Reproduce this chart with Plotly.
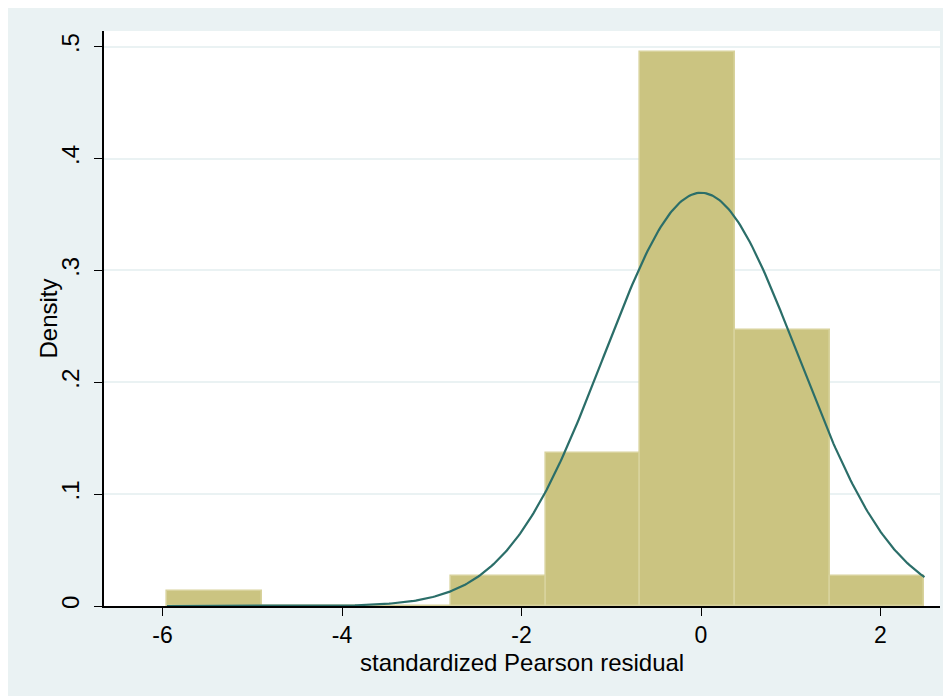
import numpy as np
import plotly.graph_objects as go

# Histogram bins (left edge, width) and densities
bin_start = -5.95
bin_width = 1.055
densities = [0.0134, 0.0, 0.0, 0.0268, 0.137, 0.495, 0.247, 0.0268]

# Normal density overlay parameters
MEAN = 0.0
SD = 1.08
curve_min = -5.95
curve_max = 2.49

x_ticks = [-6, -4, -2, 0, 2]
x_tick_labels = ["-6", "-4", "-2", "0", "2"]
y_ticks = [0, 0.1, 0.2, 0.3, 0.4, 0.5]
y_tick_labels = ["0", ".1", ".2", ".3", ".4", ".5"]

x_title = "standardized Pearson residual"
y_title = "Density"

centers = [bin_start + bin_width * (i + 0.5) for i in range(len(densities))]

xs = np.linspace(curve_min, curve_max, 400)
ys = np.exp(-0.5 * ((xs - MEAN) / SD) ** 2) / (SD * np.sqrt(2 * np.pi))

FONT = "Liberation Sans, Arial, sans-serif"
BG = "#EAF2F3"
PLOT_W = 951 - 96 - 19
PLOT_H = 696 - 23 - 98

fig = go.Figure()
fig.add_trace(go.Bar(
    x=centers, y=densities, width=[bin_width] * len(densities),
    marker=dict(color="#CBC481", line=dict(color="#D8D29C", width=1.6)),
    hoverinfo="skip", showlegend=False,
))
fig.add_trace(go.Scatter(
    x=xs, y=ys, mode="lines",
    line=dict(color="#2B6E69", width=2.2),
    hoverinfo="skip", showlegend=False,
))

fig.update_layout(
    width=951, height=696,
    margin=dict(l=96, r=19, t=23, b=98),
    paper_bgcolor=BG, plot_bgcolor="white",
    font=dict(family=FONT, size=24, color="black"),
    bargap=0,
    xaxis=dict(
        range=[-6.652, 2.663], tickvals=x_ticks, ticktext=x_tick_labels,
        showgrid=False, zeroline=False, showline=True, linecolor="black", linewidth=1.5,
        ticks="outside", ticklen=8, tickwidth=1.3, tickcolor="black",
        tickfont=dict(size=23),
    ),
    yaxis=dict(
        range=[0, 0.514], tickvals=y_ticks, ticktext=y_tick_labels, tickangle=-90,
        showgrid=True, gridcolor=BG, gridwidth=1.8, zeroline=False,
        showline=True, linecolor="black", linewidth=1.5,
        ticks="outside", ticklen=8, tickwidth=1.3, tickcolor="black",
        tickfont=dict(size=24), ticklabelstandoff=6,
    ),
    annotations=[
        dict(text=x_title, xref="paper", yref="paper", x=0.5, y=-56 / PLOT_H,
             xanchor="center", yanchor="middle", showarrow=False, font=dict(size=24)),
        dict(text=y_title, xref="paper", yref="paper", x=-56 / PLOT_W, y=0.5,
             xanchor="center", yanchor="middle", textangle=-90, showarrow=False,
             font=dict(size=24)),
    ],
)

fig.write_html("out.html")
